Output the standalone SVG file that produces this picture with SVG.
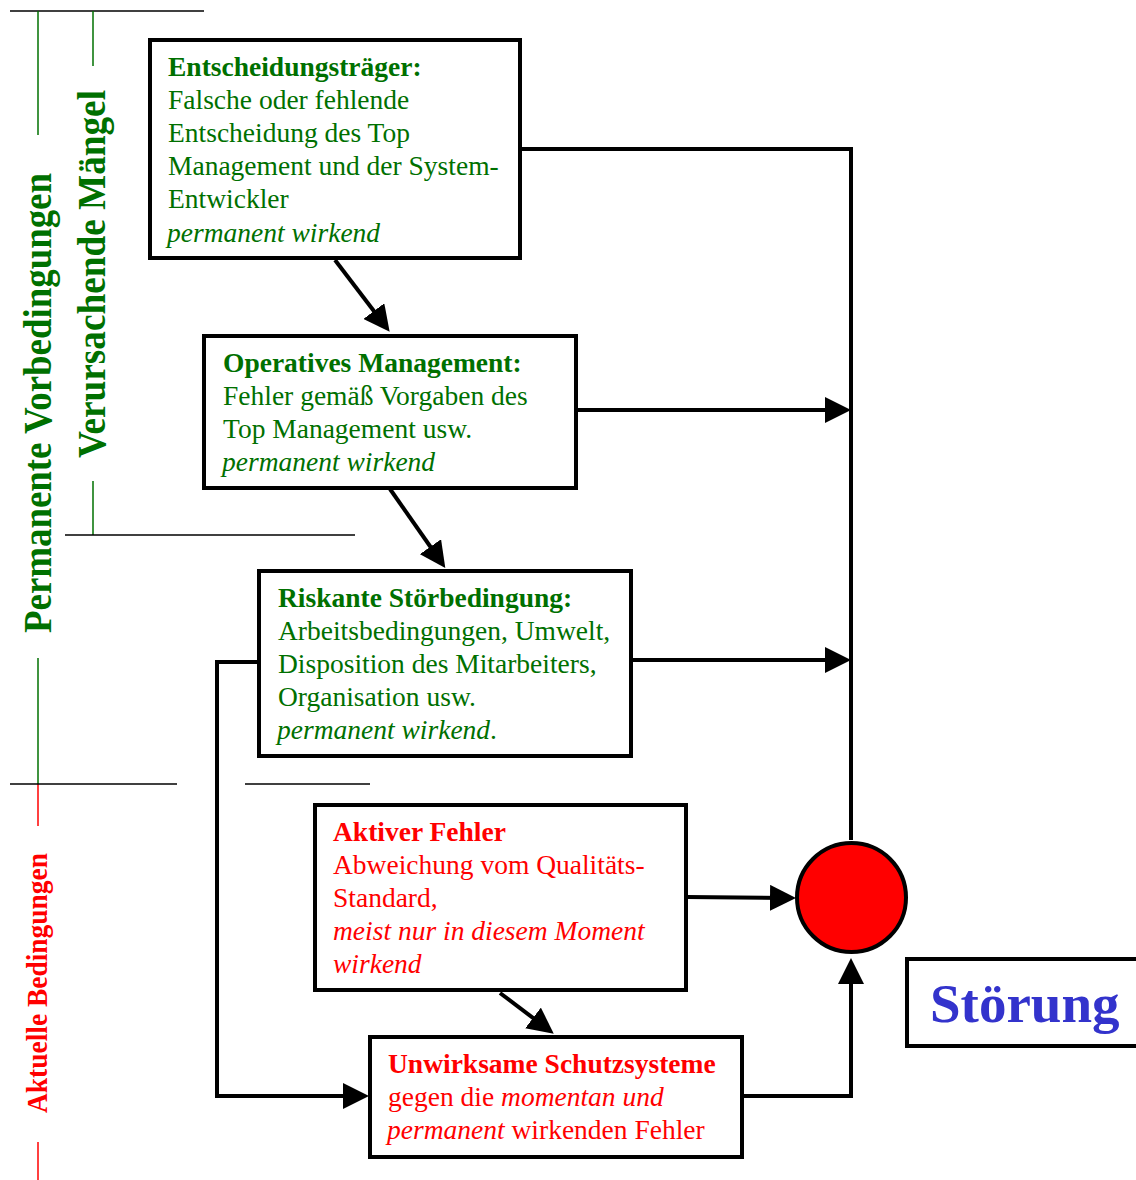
<svg xmlns="http://www.w3.org/2000/svg" width="1136" height="1180" viewBox="0 0 1136 1180">
<style>
.box{fill:#fff;stroke:#000;stroke-width:4}
.t{font-family:"Liberation Serif","Times New Roman",serif;font-size:27.5px}
.g{fill:#007000}
.r{fill:#ff0000}
.b{font-weight:bold}
.i{font-style:italic}
.n{font-style:normal}
.con{fill:none;stroke:#000;stroke-width:4}
.thin{stroke:#000;stroke-width:1.5}
.gl{stroke:#007000;stroke-width:1.5}
.rl{stroke:#ff0000;stroke-width:1.5}
.side{font-family:"Liberation Serif","Times New Roman",serif;font-weight:bold}
</style>
<defs>
<marker id="ah" markerUnits="userSpaceOnUse" markerWidth="26" markerHeight="26" refX="15" refY="13" orient="auto">
<path d="M0,0 L26,13 L0,26 z" fill="#000"/>
</marker>
</defs>
<rect width="1136" height="1180" fill="#fff"/>

<g id="side-labels">
<line class="thin" x1="10" y1="11" x2="204" y2="11"/>
<line class="gl" x1="38" y1="11" x2="38" y2="135"/>
<line class="gl" x1="93" y1="11" x2="93" y2="66"/>
<line class="gl" x1="93" y1="481" x2="93" y2="535"/>
<line class="thin" x1="65" y1="535" x2="355" y2="535"/>
<line class="gl" x1="38" y1="658" x2="38" y2="784"/>
<line class="rl" x1="38" y1="784" x2="38" y2="826"/>
<line class="rl" x1="38" y1="1142" x2="38" y2="1180"/>
<line class="thin" x1="10" y1="784" x2="177" y2="784"/>
<line class="thin" x1="245" y1="784" x2="370" y2="784"/>
<text class="side g" font-size="40" transform="translate(51,633) rotate(-90)" textLength="460" lengthAdjust="spacingAndGlyphs">Permanente Vorbedingungen</text>
<text class="side g" font-size="40" transform="translate(105,458) rotate(-90)" textLength="368" lengthAdjust="spacingAndGlyphs">Verursachende Mängel</text>
<text class="side r" font-size="29" transform="translate(47,1113) rotate(-90)" textLength="260" lengthAdjust="spacingAndGlyphs">Aktuelle Bedingungen</text>
</g>

<g id="connectors">
<polyline class="con" points="521,149 851,149 851,840"/>
<line class="con" x1="577" y1="410" x2="840" y2="410" marker-end="url(#ah)"/>
<line class="con" x1="632" y1="660" x2="840" y2="660" marker-end="url(#ah)"/>
<line class="con" x1="335" y1="260" x2="383" y2="323" marker-end="url(#ah)"/>
<line class="con" x1="390" y1="489" x2="439" y2="559" marker-end="url(#ah)"/>
<line class="con" x1="687" y1="897" x2="785" y2="898" marker-end="url(#ah)"/>
<line class="con" x1="500" y1="993" x2="545" y2="1027" marker-end="url(#ah)"/>
<polyline class="con" points="258,662 217,662 217,1096 358,1096" marker-end="url(#ah)"/>
<polyline class="con" points="742,1096 851,1096 851,969" marker-end="url(#ah)"/>
</g>

<g id="node-entscheidungstraeger">
<rect class="box" x="150" y="40" width="370" height="218"/>
<text class="t g" x="168" y="76"><tspan class="b">Entscheidungsträger:</tspan><tspan x="168" y="109">Falsche oder fehlende</tspan><tspan x="168" y="142">Entscheidung des Top</tspan><tspan x="168" y="175">Management und der System-</tspan><tspan x="168" y="208">Entwickler</tspan><tspan class="i" x="167" y="242">permanent wirkend</tspan></text>
</g>

<g id="node-operatives-management">
<rect class="box" x="204" y="336" width="372" height="152"/>
<text class="t g" x="223" y="372"><tspan class="b">Operatives Management:</tspan><tspan x="223" y="405">Fehler gemäß Vorgaben des</tspan><tspan x="223" y="438">Top Management usw.</tspan><tspan class="i" x="222" y="471">permanent wirkend</tspan></text>
</g>

<g id="node-riskante-stoerbedingung">
<rect class="box" x="259" y="571" width="372" height="185"/>
<text class="t g" x="278" y="607"><tspan class="b">Riskante Störbedingung:</tspan><tspan x="278" y="640">Arbeitsbedingungen, Umwelt,</tspan><tspan x="278" y="673">Disposition des Mitarbeiters,</tspan><tspan x="278" y="706">Organisation usw.</tspan><tspan class="i" x="277" y="739">permanent wirkend</tspan><tspan class="n">.</tspan></text>
</g>

<g id="node-aktiver-fehler">
<rect class="box" x="315" y="805" width="371" height="185"/>
<text class="t r" x="333" y="841"><tspan class="b">Aktiver Fehler</tspan><tspan x="333" y="874">Abweichung vom Qualitäts-</tspan><tspan x="333" y="907">Standard,</tspan><tspan class="i" x="333" y="940">meist nur in diesem Moment</tspan><tspan class="i" x="333" y="973">wirkend</tspan></text>
</g>

<g id="node-unwirksame-schutzsysteme">
<rect class="box" x="370" y="1037" width="372" height="120"/>
<text class="t r" x="388" y="1073"><tspan class="b">Unwirksame Schutzsysteme</tspan><tspan x="388" y="1106">gegen die </tspan><tspan class="i">momentan und</tspan><tspan class="i" x="387" y="1139">permanent</tspan><tspan> wirkenden Fehler</tspan></text>
</g>

<g id="node-stoerung-circle">
<circle cx="851.5" cy="897.5" r="54.5" fill="#ff0000" stroke="#000" stroke-width="4"/>
</g>

<g id="node-stoerung">
<rect class="box" x="907" y="959" width="240" height="87"/>
<text x="930" y="1022" font-family="Liberation Serif, Times New Roman, serif" font-weight="bold" font-size="55" fill="#3333cc">Störung</text>
</g>
</svg>
